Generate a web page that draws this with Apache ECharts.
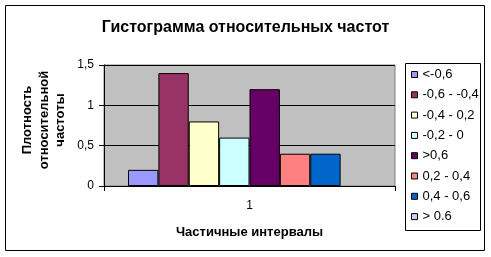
<!DOCTYPE html>
<html><head><meta charset="utf-8">
<script src="https://cdn.jsdelivr.net/npm/echarts@6/dist/echarts.min.js"></script>
<style>html,body{margin:0;padding:0;background:#fff}#c{width:491px;height:257px}</style>
</head><body><div id="c"></div>
<script>
var categories = ['1'];
var seriesNames = ['<-0,6', '-0,6 - -0,4', '-0,4 - 0,2', '-0,2 - 0', '>0,6', '0,2 - 0,4', '0,4 - 0,6', '> 0.6'];
var seriesValues = [0.2, 1.4, 0.8, 0.6, 1.2, 0.4, 0.4, 0];
var seriesColors = ['#9999FF', '#993366', '#FFFFCC', '#CCFFFF', '#660066', '#FF8080', '#0066CC', '#CCCCFF'];
var yTicks = [0, 0.5, 1, 1.5];

var FONT = 'Liberation Sans, Arial, sans-serif';
var chart = echarts.init(document.getElementById('c'), null, {renderer: 'canvas'});
var series = seriesNames.map(function (n, i) {
  return {
    name: n, type: 'bar', data: [seriesValues[i]],
    barGap: '0%', barCategoryGap: '16.5%',
    itemStyle: {color: seriesColors[i], borderColor: '#000', borderWidth: seriesValues[i] === 0 ? 0 : 1},
    emphasis: {disabled: true}, animation: false
  };
});
chart.setOption({
  animation: false,
  title: {
    text: 'Гистограмма относительных частот', left: 'center', top: 15,
    textStyle: {fontFamily: FONT, fontSize: 16, fontWeight: 'bold', color: '#000'}
  },
  grid: {left: 104, top: 65, width: 291, height: 121, show: true, backgroundColor: '#C0C0C0', borderColor: '#808080', borderWidth: 1},
  legend: {
    orient: 'vertical', left: 411, top: 68, padding: 0, itemWidth: 6, itemHeight: 6, itemGap: 7.3, icon: 'rect',
    itemStyle: {borderColor: '#000', borderWidth: 1},
    textStyle: {fontFamily: FONT, fontSize: 13, color: '#000', padding: [0,0,0,0]},
    data: seriesNames, selectedMode: false
  },
  xAxis: {
    type: 'category', data: categories,
    axisLine: {lineStyle: {color: '#000', width: 1}},
    axisTick: {show: true, length: 5, lineStyle: {color: '#000'}},
    axisLabel: {fontFamily: FONT, fontSize: 12, color: '#000', margin: 14},
    name: 'Частичные интервалы', nameLocation: 'middle', nameGap: 40,
    nameTextStyle: {fontFamily: FONT, fontSize: 13, fontWeight: 'bold', color: '#000'}
  },
  yAxis: {
    type: 'value', min: 0, max: 1.5, interval: 0.5,
    axisLine: {show: true, lineStyle: {color: '#000', width: 1}},
    axisTick: {show: true, length: 5, lineStyle: {color: '#000'}},
    splitLine: {show: true, lineStyle: {color: '#000', width: 1}},
    axisLabel: {fontFamily: FONT, fontSize: 12, color: '#000', margin: 10,
      formatter: function (v) { return yTicks.indexOf(v) >= 0 ? String(v).replace('.', ',') : ''; }}
  },
  graphic: [
    {type: 'rect', shape: {x: 5.5, y: 5.5, width: 479, height: 245}, style: {fill: 'none', stroke: '#000', lineWidth: 1}, z: -1, silent: true},
    {type: 'rect', shape: {x: 405.5, y: 63.5, width: 75, height: 167}, style: {fill: 'none', stroke: '#000', lineWidth: 1}, silent: true},
    {type: 'text', x: 44, y: 120, rotation: Math.PI / 2,
      style: {text: 'Плотность\nотносительной\nчастоты', fontFamily: FONT, fontSize: 13, fontWeight: 'bold', fill: '#000',
        align: 'center', verticalAlign: 'middle', lineHeight: 16.5}, silent: true}
  ],
  series: series
});
</script></body></html>
